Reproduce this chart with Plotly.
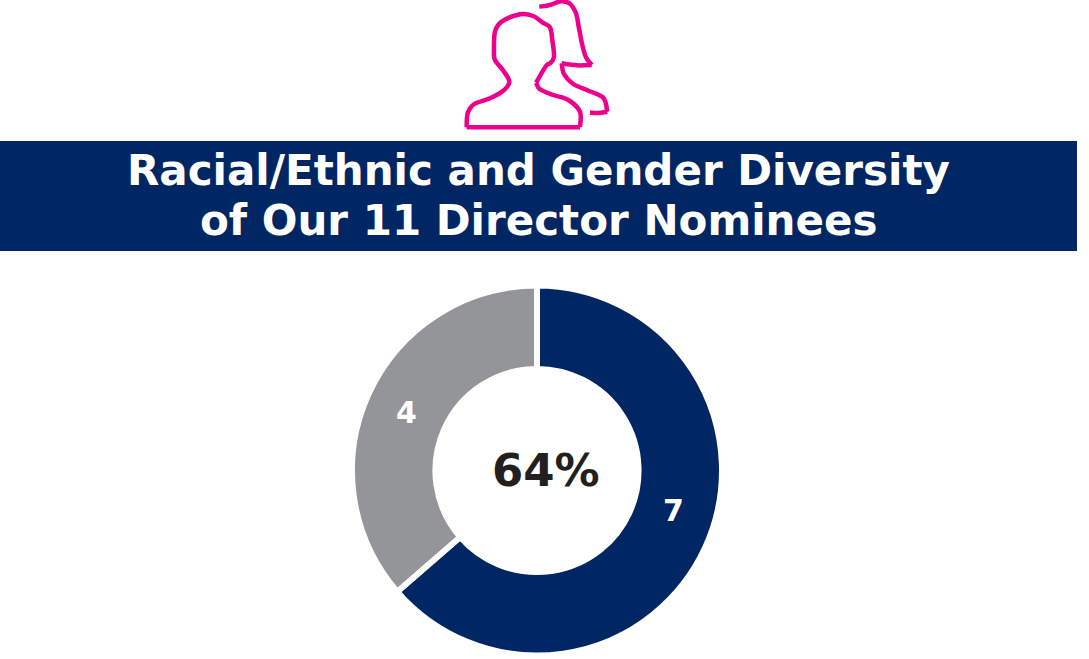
import plotly.graph_objects as go

# Data
categories = ["Diverse", "Other"]
values = [7, 4]
slice_colors = ["#002663", "#939598"]
center_label = "64%"
title_lines = ["Racial/Ethnic and Gender Diversity", "of Our 11 Director Nominees"]

WIDTH, HEIGHT = 1089, 659
NAVY = "#002663"
PINK = "#EC008C"
FONT = "DejaVu Sans"


def smooth(points):
    # catmull-rom through the traced points, gives an svg path in pixel coords
    pts = [points[0]] + points + [points[-1]]
    path = "M%.1f,%.1f" % points[0]
    for i in range(1, len(pts) - 2):
        p0, p1, p2, p3 = pts[i - 1], pts[i], pts[i + 1], pts[i + 2]
        c1 = (p1[0] + (p2[0] - p0[0]) / 6, p1[1] + (p2[1] - p0[1]) / 6)
        c2 = (p2[0] - (p3[0] - p1[0]) / 6, p2[1] - (p3[1] - p1[1]) / 6)
        path += " C%.1f,%.1f %.1f,%.1f %.1f,%.1f" % (c1 + c2 + p2)
    return path


def icon(points):
    # traced from the 3x zoom with origin at (440, 0)
    return [(440 + x / 3, y / 3) for x, y in points]


# outline pieces, split at the sharp corners so the curve does not overshoot
icon_strokes = [
    icon([(80, 382), (83, 340), (103, 312), (150, 295), (190, 272), (208, 245), (190, 212),
          (165, 180), (162, 150), (165, 95), (185, 65), (240, 43), (280, 48), (308, 68),
          (330, 82), (337, 120), (342, 170), (330, 190), (318, 198), (288, 248)]),
    icon([(288, 248), (300, 268), (340, 285), (385, 300), (420, 335), (420, 382)]),
    icon([(80, 382), (420, 382)]),
    icon([(298, 20), (330, 15), (362, 4), (388, 10), (408, 40), (417, 85), (427, 135),
          (438, 172), (455, 195)]),
    icon([(365, 190), (410, 196), (455, 195)]),
    icon([(365, 190), (372, 222), (400, 252), (445, 272), (490, 293), (502, 335)]),
    icon([(502, 335), (475, 339), (450, 338)]),
]

fig = go.Figure()

fig.add_trace(go.Pie(
    labels=categories,
    values=values,
    marker=dict(colors=slice_colors, line=dict(color="white", width=6)),
    hole=0.549,
    sort=False,
    direction="clockwise",
    rotation=0,
    textinfo="none",
    showlegend=False,
    domain=dict(x=[352 / WIDTH, 722 / WIDTH], y=[1 - 655.5 / HEIGHT, 1 - 285.5 / HEIGHT]),
))

# invisible axes so the shapes and texts can use pixel positions
fig.update_xaxes(range=[0, WIDTH], visible=False)
fig.update_yaxes(range=[HEIGHT, 0], visible=False)
fig.add_trace(go.Scatter(x=[], y=[], showlegend=False))

fig.add_shape(type="rect", x0=0, x1=1077, y0=141, y1=251, fillcolor=NAVY, line_width=0, layer="below")
for pts in icon_strokes:
    fig.add_shape(type="path", path=smooth(pts), line=dict(color=PINK, width=4.5))


def label(x, y, text, size, color):
    fig.add_annotation(x=x, y=y, text=text, showarrow=False, xanchor="center", yanchor="middle",
                       font=dict(family=FONT, size=size, color=color, weight="bold"))


label(538, 170, title_lines[0], 42, "white")
label(538, 220, title_lines[1], 42, "white")
label(545.5, 470, center_label, 45, "#231F20")
label(673, 510, str(values[0]), 30, "white")
label(406, 412, str(values[1]), 30, "white")

fig.update_layout(
    width=WIDTH,
    height=HEIGHT,
    margin=dict(l=0, r=0, t=0, b=0),
    paper_bgcolor="white",
    plot_bgcolor="rgba(0,0,0,0)",
)
fig.write_html("out.html", config=dict(displayModeBar=False), post_script="document.body.style.margin='0';")
